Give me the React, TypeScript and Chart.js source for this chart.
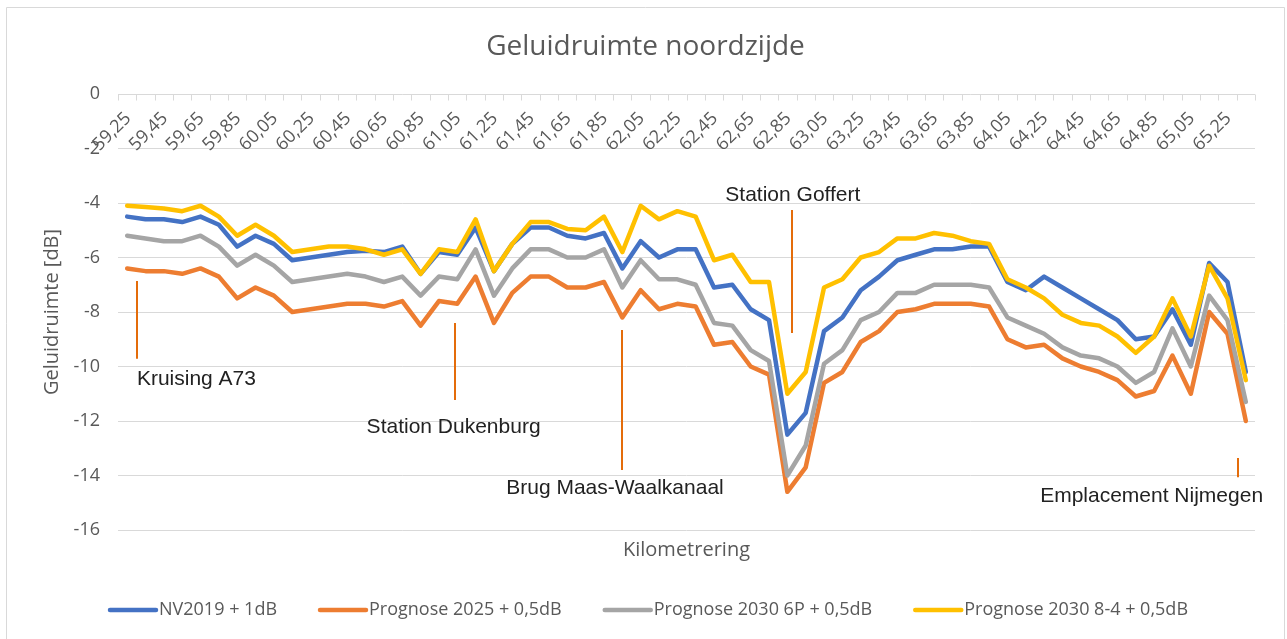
import React, { useEffect, useRef } from "react";
import { Chart, registerables } from "chart.js";

Chart.register(...registerables);

const chartTitle = "Geluidruimte noordzijde";
const xTitle = "Kilometrering";
const yTitle = "Geluidruimte [dB]";

const categories = [
  "59,25", "59,35", "59,45", "59,55", "59,65", "59,75", "59,85", "59,95",
  "60,05", "60,15", "60,25", "60,35", "60,45", "60,55", "60,65", "60,75", "60,85", "60,95",
  "61,05", "61,15", "61,25", "61,35", "61,45", "61,55", "61,65", "61,75", "61,85", "61,95",
  "62,05", "62,15", "62,25", "62,35", "62,45", "62,55", "62,65", "62,75", "62,85", "62,95",
  "63,05", "63,15", "63,25", "63,35", "63,45", "63,55", "63,65", "63,75", "63,85", "63,95",
  "64,05", "64,15", "64,25", "64,35", "64,45", "64,55", "64,65", "64,75", "64,85", "64,95",
  "65,05", "65,15", "65,25", "65,35",
];

const nv2019 = [
  -4.5, -4.6, -4.6, -4.7, -4.5, -4.8, -5.6, -5.2, -5.5, -6.1,
  -6.0, -5.9, -5.8, -5.75, -5.8, -5.6, -6.6, -5.8, -5.9, -4.9,
  -6.5, -5.5, -4.9, -4.9, -5.2, -5.3, -5.1, -6.4, -5.4, -6.0,
  -5.7, -5.7, -7.1, -7.0, -7.9, -8.3, -12.5, -11.7, -8.7, -8.2,
  -7.2, -6.7, -6.1, -5.9, -5.7, -5.7, -5.6, -5.6, -6.9, -7.2,
  -6.7, -7.1, -7.5, -7.9, -8.3, -9.0, -8.9, -7.9, -9.2, -6.2,
  -6.9, -10.2,
];

const prognose2025 = [
  -6.4, -6.5, -6.5, -6.6, -6.4, -6.7, -7.5, -7.1, -7.4, -8.0,
  -7.9, -7.8, -7.7, -7.7, -7.8, -7.6, -8.5, -7.6, -7.7, -6.7,
  -8.4, -7.3, -6.7, -6.7, -7.1, -7.1, -6.9, -8.2, -7.2, -7.9,
  -7.7, -7.8, -9.2, -9.1, -10.0, -10.3, -14.6, -13.7, -10.6, -10.2,
  -9.1, -8.7, -8.0, -7.9, -7.7, -7.7, -7.7, -7.8, -9.0, -9.3,
  -9.2, -9.7, -10.0, -10.2, -10.5, -11.1, -10.9, -9.6, -11.0, -8.0,
  -8.8, -12.0,
];

const prognose2030_6P = [
  -5.2, -5.3, -5.4, -5.4, -5.2, -5.6, -6.3, -5.9, -6.3, -6.9,
  -6.8, -6.7, -6.6, -6.7, -6.9, -6.7, -7.4, -6.7, -6.8, -5.7,
  -7.4, -6.4, -5.7, -5.7, -6.0, -6.0, -5.7, -7.1, -6.1, -6.8,
  -6.8, -7.0, -8.4, -8.5, -9.4, -9.8, -14.0, -12.9, -9.9, -9.4,
  -8.3, -8.0, -7.3, -7.3, -7.0, -7.0, -7.0, -7.1, -8.2, -8.5,
  -8.8, -9.3, -9.6, -9.7, -10.0, -10.6, -10.2, -8.6, -10.0, -7.4,
  -8.3, -11.3,
];

const prognose2030_84 = [
  -4.1, -4.15, -4.2, -4.3, -4.1, -4.5, -5.2, -4.8, -5.2, -5.8,
  -5.7, -5.6, -5.6, -5.7, -5.9, -5.7, -6.6, -5.7, -5.8, -4.6,
  -6.5, -5.5, -4.7, -4.7, -4.95, -5.0, -4.5, -5.8, -4.1, -4.6,
  -4.3, -4.5, -6.1, -5.9, -6.9, -6.9, -11.0, -10.2, -7.1, -6.8,
  -6.0, -5.8, -5.3, -5.3, -5.1, -5.2, -5.4, -5.5, -6.8, -7.1,
  -7.5, -8.1, -8.4, -8.5, -8.9, -9.5, -8.9, -7.5, -8.9, -6.3,
  -7.5, -10.5,
];

const seriesLabels = [
  "NV2019 + 1dB",
  "Prognose 2025 + 0,5dB",
  "Prognose 2030 6P + 0,5dB",
  "Prognose 2030 8-4 + 0,5dB",
];
const seriesValues = [nv2019, prognose2025, prognose2030_6P, prognose2030_84];
const seriesColors = ["#4472C4", "#ED7D31", "#A5A5A5", "#FFC000"];

const yMin = -16;
const yMax = 0;
const yStep = 2;

// Callouts, in data coordinates (category index, dB)
const calloutTexts = [
  "Kruising A73",
  "Station Dukenburg",
  "Brug Maas-Waalkanaal",
  "Station Goffert",
  "Emplacement Nijmegen",
];
const calloutLineIndex = [0.53, 17.87, 27.0, 36.25, 60.6];
const calloutLineFrom = [-6.86, -8.4, -8.66, -4.26, -13.36];
const calloutLineTo = [-9.72, -11.23, -13.8, -8.77, -14.06];
const calloutTextIndex = [0.53, 17.8, 26.6, 36.3, 61.94];
const calloutTextValue = [-10.46, -12.22, -14.46, -3.71, -14.75];
const calloutAlign = ["left", "center", "center", "center", "right"];

const FONT = "'Open Sans', sans-serif";
const TXT = "#595959";
const GRID = "#D9D9D9";

const decorPlugin = {
  id: "excelDecor",
  afterDraw(chart: any) {
    const { ctx, chartArea, scales } = chart;
    const xs = scales.x;
    const ys = scales.y;
    ctx.save();

    // chart frame
    ctx.strokeStyle = GRID;
    ctx.lineWidth = 1;
    ctx.beginPath();
    ctx.moveTo(6.5, chart.height + 2);
    ctx.lineTo(6.5, 7.5);
    ctx.lineTo(chart.width - 2.5, 7.5);
    ctx.lineTo(chart.width - 2.5, chart.height + 2);
    ctx.stroke();

    // title
    ctx.fillStyle = TXT;
    ctx.font = `28px ${FONT}`;
    ctx.textAlign = "center";
    ctx.textBaseline = "middle";
    ctx.fillText(chartTitle, chart.width / 2 + 2, 47);

    // category axis tick marks (axis sits at value 0)
    const y0 = Math.round(ys.getPixelForValue(0)) + 0.5;
    ctx.strokeStyle = GRID;
    ctx.lineWidth = 1;
    ctx.beginPath();
    for (let k = 0; k <= categories.length; k++) {
      const px = Math.round(xs.getPixelForValue(k - 0.5)) + 0.5;
      ctx.moveTo(px, y0);
      ctx.lineTo(px, y0 + 6);
    }
    ctx.stroke();

    // category labels, rotated
    ctx.fillStyle = TXT;
    ctx.font = `18px ${FONT}`;
    ctx.textAlign = "right";
    ctx.textBaseline = "middle";
    categories.forEach((c, i) => {
      if (i % 2 !== 0) return;
      const px = xs.getPixelForValue(i);
      ctx.save();
      ctx.translate(px + 1, y0 + 21);
      ctx.rotate(-Math.PI / 4);
      ctx.fillText(c, 0, 0);
      ctx.restore();
    });

    // x axis title
    ctx.font = `20px ${FONT}`;
    ctx.textAlign = "center";
    ctx.textBaseline = "middle";
    ctx.fillText(xTitle, (chartArea.left + chartArea.right) / 2, 550);

    // legend
    ctx.font = `18px ${FONT}`;
    ctx.textAlign = "left";
    let lx = 108;
    const ly = 610;
    seriesLabels.forEach((label, i) => {
      ctx.strokeStyle = seriesColors[i];
      ctx.lineWidth = 4.5;
      ctx.lineCap = "round";
      ctx.beginPath();
      ctx.moveTo(lx + 2, ly);
      ctx.lineTo(lx + 48, ly);
      ctx.stroke();
      ctx.fillStyle = TXT;
      ctx.fillText(label, lx + 51, ly);
      lx += 51 + ctx.measureText(label).width + 41;
    });

    // callouts
    ctx.lineCap = "butt";
    calloutTexts.forEach((t, i) => {
      const px = Math.round(xs.getPixelForValue(calloutLineIndex[i]));
      ctx.strokeStyle = "#E46C0A";
      ctx.lineWidth = 2;
      ctx.beginPath();
      ctx.moveTo(px, ys.getPixelForValue(calloutLineFrom[i]));
      ctx.lineTo(px, ys.getPixelForValue(calloutLineTo[i]));
      ctx.stroke();
      ctx.fillStyle = "#222222";
      ctx.font = "21px 'Liberation Sans', Arial, sans-serif";
      ctx.textAlign = calloutAlign[i] as CanvasTextAlign;
      ctx.textBaseline = "middle";
      ctx.fillText(t, xs.getPixelForValue(calloutTextIndex[i]), ys.getPixelForValue(calloutTextValue[i]));
    });

    ctx.restore();
  },
};

export default function App() {
  const canvasRef = useRef<HTMLCanvasElement | null>(null);

  useEffect(() => {
    document.body.style.margin = "0";
    document.body.style.background = "#ffffff";
    const canvas = canvasRef.current;
    if (!canvas) return;

    const datasets = seriesLabels.map((label, i) => ({
      label,
      data: seriesValues[i],
      borderColor: seriesColors[i],
      backgroundColor: seriesColors[i],
      borderWidth: 4.5,
      pointRadius: 0,
      pointHoverRadius: 0,
      tension: 0,
      fill: false,
      borderJoinStyle: "round" as const,
      borderCapStyle: "round" as const,
      order: seriesLabels.length - 1 - i,
    }));

    const chart = new Chart(canvas, {
      type: "line",
      data: { labels: categories, datasets },
      options: {
        animation: false,
        responsive: true,
        maintainAspectRatio: false,
        events: [],
        layout: { padding: { left: 0, top: 94, right: 32, bottom: 109 } },
        plugins: {
          legend: { display: false },
          title: { display: false },
          tooltip: { enabled: false },
        },
        scales: {
          x: {
            type: "category",
            offset: true,
            display: false,
          },
          y: {
            min: yMin,
            max: yMax,
            ticks: {
              stepSize: yStep,
              color: TXT,
              font: { family: FONT, size: 18 },
              padding: 18,
            },
            grid: { color: GRID, lineWidth: 1, drawTicks: false },
            border: { display: false },
            title: {
              display: true,
              text: yTitle,
              color: TXT,
              font: { family: FONT, size: 20 },
              padding: { top: 40, bottom: 0 },
            },
            afterFit: (scale: any) => {
              scale.width = 118;
            },
          },
        },
      },
      plugins: [decorPlugin],
    });

    return () => chart.destroy();
  }, []);

  return (
    <div style={{ width: "1287px", height: "639px", position: "relative", background: "#fff" }}>
      <canvas ref={canvasRef} />
    </div>
  );
}
